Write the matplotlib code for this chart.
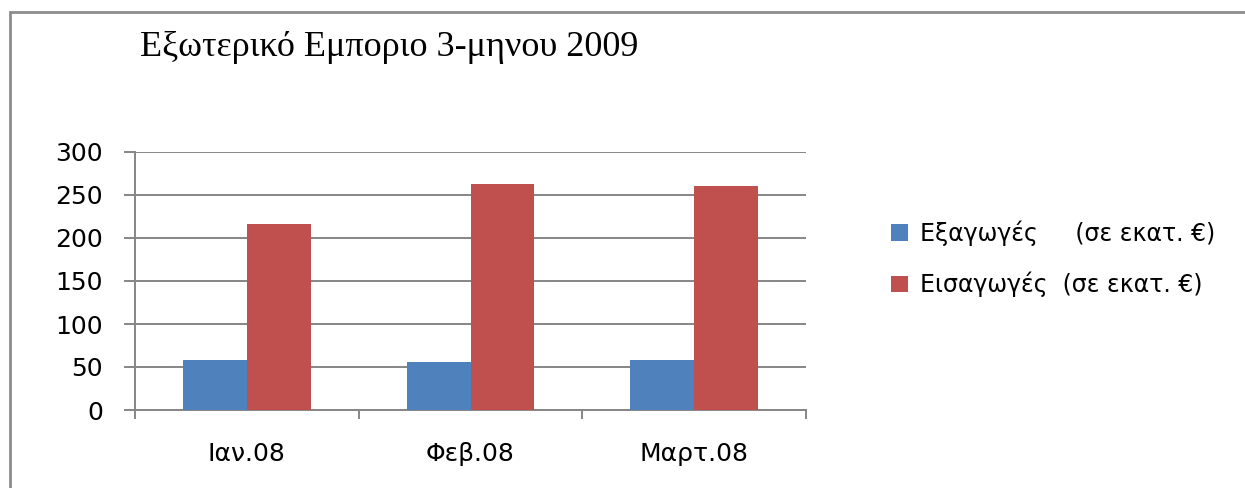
import numpy as np
import matplotlib
matplotlib.use('Agg')
import matplotlib.pyplot as plt
from matplotlib.patches import Rectangle

months = ['Ιαν.08', 'Φεβ.08', 'Μαρτ.08']
exports = [58, 56, 58]
imports = [216, 263, 260]
labels = ['Εξαγωγές     (σε εκατ. €)', 'Εισαγωγές  (σε εκατ. €)']
yticks = [0, 50, 100, 150, 200, 250, 300]
title = 'Εξωτερικό Εμποριο 3-μηνου 2009'

BLUE = '#4F81BD'
RED = '#C0504D'
GREY = '#868686'

fig = plt.figure(figsize=(12.45, 4.88), dpi=100)
ax = fig.add_axes([135 / 1245, 1 - 410 / 488, (806 - 135) / 1245, (410 - 152) / 488])

x = np.arange(1, len(months) + 1)
w = 1 / 3.5
b1 = ax.bar(x - w / 2, exports, w, color=BLUE, zorder=3, label=labels[0])
b2 = ax.bar(x + w / 2, imports, w, color=RED, zorder=3, label=labels[1])

ax.set_xlim(0.5, len(months) + 0.5)
ax.set_ylim(0, 300)
ax.set_yticks(yticks)
ax.yaxis.grid(True, color=GREY, linewidth=1.4, zorder=0)
ax.set_axisbelow(True)

for s in ['top', 'right']:
    ax.spines[s].set_visible(False)
for s in ['left', 'bottom']:
    ax.spines[s].set_color(GREY)
    ax.spines[s].set_linewidth(1.4)

ax.set_xticks(x)
ax.set_xticklabels(months)
ax.set_xticks(np.arange(0.5, len(months) + 1, 1), minor=True)
ax.tick_params(axis='x', which='major', length=0, pad=23, labelsize=18)
ax.tick_params(axis='x', which='minor', length=6.5, width=1.4, color=GREY, direction='out')
ax.tick_params(axis='y', length=8, width=1.4, color=GREY, pad=15, labelsize=18)

fig.text(140 / 1245, 1 - 47 / 488, title, family='Liberation Serif', fontsize=26,
         ha='left', va='center')

leg = fig.legend(handles=[b1, b2], loc='upper left', bbox_to_anchor=(870 / 1245, 1 - 199 / 488),
                 frameon=False, fontsize=17, handlelength=0.72, handleheight=0.72,
                 handletextpad=0.5, labelspacing=1.1)

# chart frame (only left and top edges fall inside the picture)
fig.patches.append(Rectangle((10 / 1245, -0.5), 2.0, 1 - 12 / 488 + 0.5,
                             transform=fig.transFigure, fill=False,
                             edgecolor='#8c8c8c', linewidth=2))

plt.savefig('out.png', dpi=100)
